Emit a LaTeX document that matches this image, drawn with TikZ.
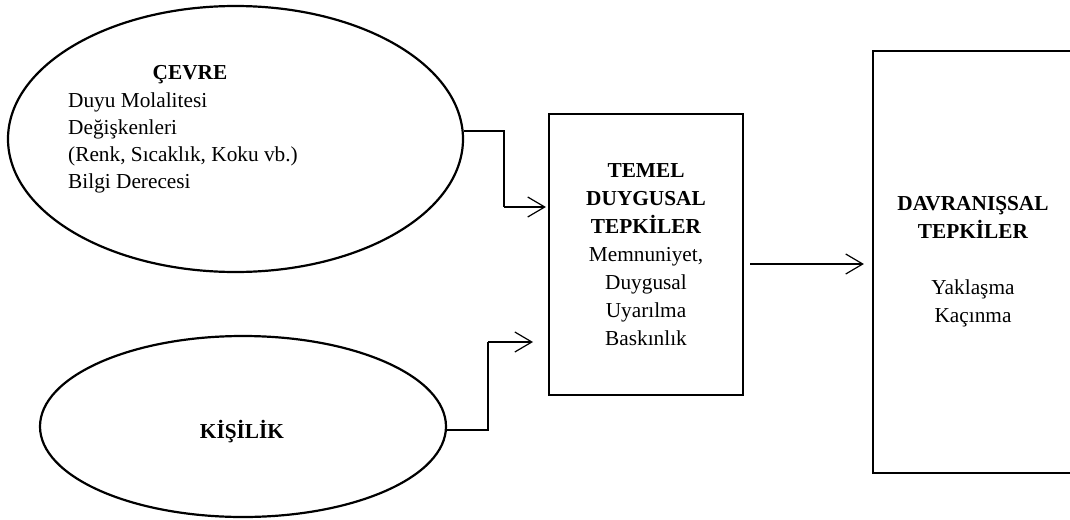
\documentclass[tikz,border=0pt]{standalone}
\usepackage{fontspec}
\setmainfont{Liberation Serif}
\usetikzlibrary{shapes.geometric,arrows.meta,calc}

\tikzset{
  frame/.style={draw, line width=2.2pt},
  oval/.style={frame, ellipse, inner sep=0pt},
  panel/.style={frame, rectangle, inner sep=0pt, align=center,
    font=\fontsize{21.3}{28}\selectfont},
  label/.style={inner sep=0pt, font=\fontsize{21.3}{28}\selectfont},
  conn/.style={line width=1.2pt, -{Straight Barb[length=17pt,width=20pt,line width=1.2pt]}},
  wire/.style={line width=1.2pt}
}

\begin{document}
\begin{tikzpicture}[x=1pt, y=-1pt]
  \clip (0,0) rectangle (1070,519);
  \fill[white] (0,0) rectangle (1070,519);

  % environment oval
  \node[oval, minimum width=455pt, minimum height=266pt] (ev) at (235.5,139) {};
  \node[label, font=\fontsize{21.3}{28}\selectfont\bfseries, anchor=base] (evtitle) at (190,79) {ÇEVRE};
  \foreach \i/\t in {0/Duyu Molalitesi, 1/Değişkenleri, 2/{(Renk, Sıcaklık, Koku vb.)}, 3/Bilgi Derecesi}
    \node[label, anchor=base west] (evline\i) at (68,107+27*\i) {\t};

  % personality oval
  \node[oval, minimum width=406pt, minimum height=181pt] (ki) at (243,426.5) {};
  \node[label, font=\fontsize{21.3}{28}\selectfont\bfseries] (kitext) at (242,432) {KİŞİLİK};

  % emotional responses
  \node[panel, minimum width=194pt, minimum height=281pt] (temel) at (646,254.5)
    {\textbf{TEMEL}\\ \textbf{DUYGUSAL}\\ \textbf{TEPKİLER}\\ Memnuniyet,\\ Duygusal\\ Uyarılma\\ Baskınlık};

  % behavioural responses
  \node[panel, minimum width=200pt, minimum height=422pt] (dav) at (973,262)
    {\textbf{DAVRANIŞSAL}\\ \textbf{TEPKİLER}\\[28pt] Yaklaşma\\ Kaçınma};

  % connectors
  \coordinate (b1) at (504,207);
  \draw[wire] (ev.2) -| (b1);
  \draw[conn, shorten >=2pt] (b1) -- (b1 -| temel.west);

  \coordinate (b2) at (488,342);
  \coordinate (e2) at (533,342);
  \draw[wire] (ki.-1) -| (b2);
  \draw[conn] (b2) -- (e2);

  \coordinate (m1) at ($(temel.east)+(6,9.5)$);
  \coordinate (m2) at (m1 -| dav.west);
  \draw[conn] (m1) -- ($(m2)+(-8,0)$);
\end{tikzpicture}
\end{document}
